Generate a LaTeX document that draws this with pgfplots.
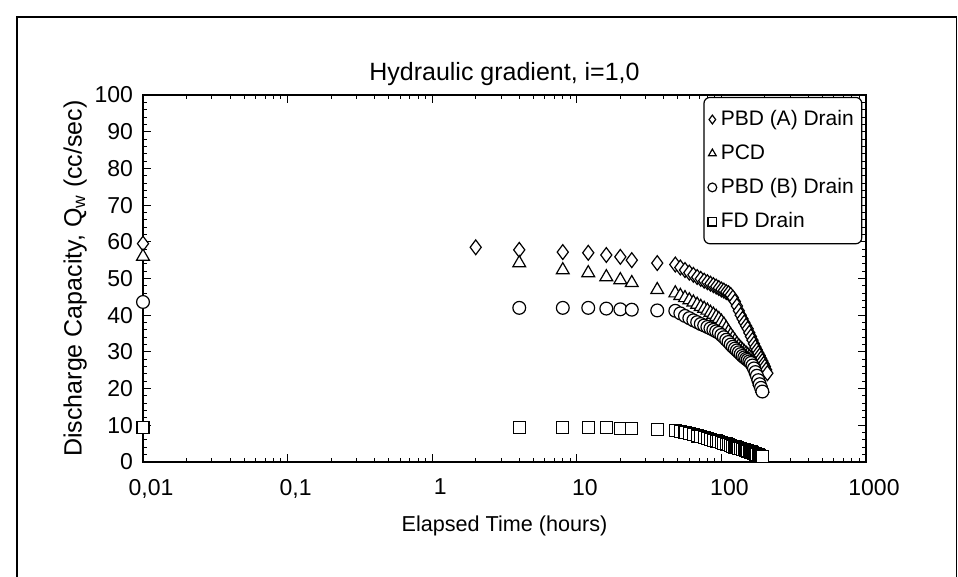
\documentclass[border=0pt]{standalone}
\usepackage{pgfplots}
\pgfplotsset{compat=1.18}
\usepackage{fontspec}
\setmainfont{Liberation Sans}

% discharge capacity of the drains, Qw (cc/sec) against elapsed time (hours)
\pgfplotstableread{
t     q
0.01  59.5
2     58.5
4     57.8
8     57.2
12    57.0
16    56.4
20    55.9
24    55.0
36    54.2
48    53.8
52    53.0
56    52.3
60    51.6
64    51.0
68    50.4
72    49.9
76    49.4
80    49.0
84    48.6
88    48.2
92    47.8
96    47.4
100   47.0
104   46.7
108   46.3
112   46.0
116   45.5
120   44.8
124   43.7
128   42.5
132   41.2
136   40.0
140   39.0
144   38.0
148   37.1
152   36.3
156   35.2
160   34.2
164   33.2
168   32.2
172   31.3
176   30.5
180   29.7
184   29.0
188   28.2
192   27.5
196   26.7
200   26.0
204   25.1
208   24.2
}\pbda
\pgfplotstableread{
t     q
0.01  56.0
4     54.2
8     52.3
12    51.5
16    50.4
20    49.6
24    48.8
36    46.9
48    46.0
52    45.3
56    44.7
60    44.1
64    43.5
68    42.9
72    42.3
76    41.8
80    41.3
84    40.7
88    40.2
92    39.6
96    39.0
100   38.3
104   37.5
108   36.5
112   35.5
116   34.6
120   33.8
124   33.0
128   32.2
132   31.6
136   31.0
140   30.5
144   30.0
148   29.6
152   29.2
156   28.7
160   28.3
164   27.7
168   27.0
172   25.8
176   24.5
180   23.2
184   22.0
188   21.0
192   20.0
}\pcd
\pgfplotstableread{
t     q
0.01  43.6
4     42.0
8     42.0
12    42.0
16    41.8
20    41.6
24    41.5
36    41.3
48    41.2
52    40.5
56    39.8
60    39.2
64    38.6
68    38.1
72    37.6
76    37.2
80    36.8
84    36.4
88    36.0
92    35.6
96    35.2
100   34.6
104   34.0
108   33.3
112   32.7
116   32.0
120   31.4
124   30.9
128   30.4
132   29.9
136   29.4
140   28.9
144   28.5
148   28.1
152   27.8
156   27.4
160   27.0
164   26.3
168   25.5
172   24.5
176   23.5
180   22.3
184   21.2
188   20.2
192   19.2
}\pbdb
\pgfplotstableread{
t     q
0.01  9.5
4     9.5
8     9.5
12    9.4
16    9.3
20    9.2
24    9.1
36    8.8
48    8.6
52    8.3
56    8.0
60    7.7
64    7.4
68    7.1
72    6.9
76    6.6
80    6.4
84    6.1
88    5.9
92    5.7
96    5.5
100   5.3
104   5.1
108   4.9
112   4.7
116   4.5
120   4.3
124   4.1
128   3.9
132   3.7
136   3.6
140   3.4
144   3.3
148   3.1
152   3.0
156   2.8
160   2.7
164   2.5
168   2.4
172   2.2
176   2.1
180   1.9
184   1.7
188   1.5
192   1.4
}\fd

\begin{document}
\begin{tikzpicture}
\useasboundingbox (0pt,0pt) rectangle (479pt,288.5pt);
% outer frame, open at the bottom
\draw[line width=0.7pt] (8.5pt,0pt) -- (8.5pt,280pt) -- (478.3pt,280pt) -- (478.3pt,0pt);
\begin{axis}[
  at={(71.5pt,57.5pt)}, anchor=south west,
  scale only axis, width=361.5pt, height=183.5pt,
  xmode=log, xmin=0.01, xmax=1000, ymin=0, ymax=100,
  clip=false,
  xtick={0.01,0.1,1,10,100,1000},
  xticklabels={{0,01},{0,1},1,10,100,1000},
  ytick={0,10,...,100},
  minor y tick num=4,
  tick align=inside,
  major tick length=4pt, minor tick length=2pt,
  axis line style={line width=0.8pt},
  every tick/.style={black, line width=0.5pt},
  tick label style={font=\fontsize{11.5}{13}\selectfont},
  yticklabel style={/pgf/number format/assume math mode=true, xshift=-1.5pt},
  xticklabel style={yshift=-5pt, xshift=4pt},
  every axis title shift=0pt,
  title={Hydraulic gradient, i=1,0},
  title style={at={(axis description cs:0.5,1.04)}, anchor=base,
    font=\fontsize{12.5}{14}\selectfont},
  xlabel={Elapsed Time (hours)},
  xlabel style={at={(axis description cs:0.5,-0.19)}, anchor=base,
    font=\fontsize{10.8}{12}\selectfont},
  ylabel={Discharge Capacity, Q\textsubscript{w} (cc/sec)},
  ylabel style={at={(axis description cs:-0.085,0.5)}, anchor=base, rotate=0,
    font=\fontsize{12.5}{14}\selectfont},
  legend style={at={(axis description cs:0.995,0.995)}, anchor=north east,
    draw=black, line width=0.6pt, rounded corners=3pt,
    font=\fontsize{10.5}{12}\selectfont, row sep=4pt,
    inner xsep=2pt, inner ysep=4.5pt},
  legend cell align=left,
  legend image code/.code={\draw[#1, mark size=2.2pt] plot coordinates {(0.2cm,0cm)};},
  every axis plot/.append style={only marks, mark options={draw=black, fill=white, line width=0.6pt}},
]
\addplot[mark=diamond*, mark size=3.7pt] table {\pbda};
\addlegendentry{PBD (A) Drain}
\addplot[mark=triangle*, mark size=3.7pt] table {\pcd};
\addlegendentry{PCD}
\addplot[mark=*, mark size=3.2pt] table {\pbdb};
\addlegendentry{PBD (B) Drain}
\addplot[mark=square*, mark size=3.0pt] table {\fd};
\addlegendentry{FD Drain}
\end{axis}
\end{tikzpicture}
\end{document}
